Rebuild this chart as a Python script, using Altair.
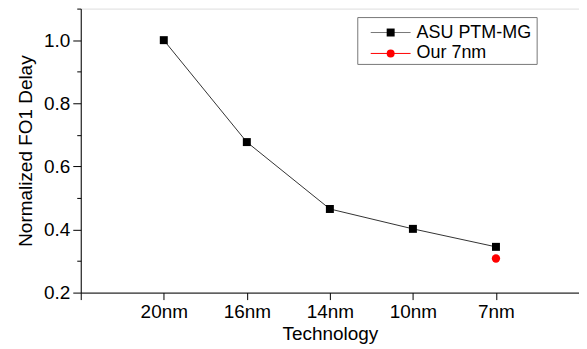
import altair as alt
import pandas as pd

categories = ["20nm", "16nm", "14nm", "10nm", "7nm"]
asu_values = [1.0, 0.677, 0.465, 0.402, 0.345]
our_category = ["7nm"]
our_values = [0.308]
legend_labels = ["ASU PTM-MG", "Our 7nm"]

FONT = "Liberation Sans"

pos = {c: i + 1 for i, c in enumerate(categories)}
df_asu = pd.DataFrame({"cat": categories, "x": [pos[c] for c in categories], "y": asu_values})
df_our = pd.DataFrame({"cat": our_category, "x": [pos[c] for c in our_category], "y": our_values})

x_enc = alt.X(
    "x:Q",
    scale=alt.Scale(domain=[0, 6], nice=False, zero=False),
    axis=alt.Axis(
        values=[0, 1, 2, 3, 4, 5, 6],
        labelExpr="datum.value==1?'20nm':datum.value==2?'16nm':datum.value==3?'14nm':datum.value==4?'10nm':datum.value==5?'7nm':''",
        title="Technology",
        tickSize=7,
        labelPadding=3,
        titlePadding=3,
    ),
)
y_enc = alt.Y(
    "y:Q",
    scale=alt.Scale(domain=[0.2, 1.1], nice=False, zero=False),
    axis=alt.Axis(
        values=[0.2, 0.3, 0.4, 0.5, 0.6, 0.7, 0.8, 0.9, 1.0, 1.1],
        labelExpr="round(datum.value*10) % 2 == 0 ? format(datum.value, '.1f') : ''",
        title="Normalized FO1 Delay",
        tickSize={"condition": {"test": "round(datum.value*10) % 2 == 0", "value": 8}, "value": 4},
        labelPadding=3,
        titlePadding=8,
    ),
)

base = alt.Chart(df_asu).encode(x=x_enc, y=y_enc)
line = base.mark_line(color="#333333", strokeWidth=1)
squares = base.mark_point(shape="square", filled=True, color="black", size=64, opacity=1)
dot = alt.Chart(df_our).mark_point(shape="circle", filled=True, color="red", size=70, opacity=1).encode(x=x_enc, y=y_enc)

# legend
leg_box = alt.Chart(pd.DataFrame({"a": [0]})).mark_rect(fill="white", stroke="#777777", strokeWidth=1).encode(
    x=alt.value(278), x2=alt.value(458), y=alt.value(9), y2=alt.value(56)
)
leg_df = pd.DataFrame({"label": legend_labels, "ypix": [24, 45], "color": ["black", "red"], "lcolor": ["#777777", "red"], "shape": ["square", "circle"]})
leg_lines = alt.Chart(leg_df).mark_rule(strokeWidth=1).encode(
    x=alt.value(291), x2=alt.value(331), y=alt.Y("ypix:Q", scale=None), color=alt.Color("lcolor:N", scale=None)
)
leg_pts = alt.Chart(leg_df).mark_point(filled=True, size=64, opacity=1).encode(
    x=alt.value(311), y=alt.Y("ypix:Q", scale=None), color=alt.Color("color:N", scale=None), shape=alt.Shape("shape:N", scale=None)
)
leg_text = alt.Chart(leg_df).mark_text(align="left", baseline="middle", font=FONT, fontSize=18, color="black").encode(
    x=alt.value(337), y=alt.Y("ypix:Q", scale=None), text="label:N"
)

chart = alt.layer(line, squares, dot, leg_box, leg_lines, leg_pts, leg_text).properties(
    width=500, height=285, autosize=alt.AutoSizeParams(type="none"),
    padding={"left": 73, "top": 0, "right": 0, "bottom": 60},
).configure_view(stroke=None).configure(background="white").configure_axis(
    grid=False,
    tickColor="black",
    domainColor="black",
    labelFontSize=19,
    labelFont=FONT,
    labelColor="black",
    titleFont=FONT,
    titleFontSize=19,
    titleFontWeight="normal",
    titleColor="black",
)

chart.save("out.html", embed_options={"renderer": "svg", "actions": False})
